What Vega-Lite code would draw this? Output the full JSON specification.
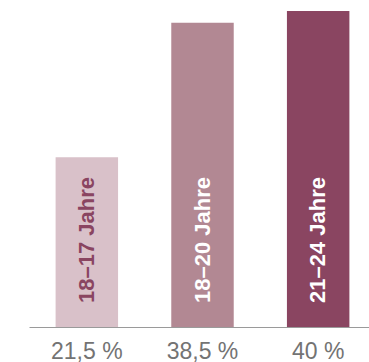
{
  "$schema": "https://vega.github.io/schema/vega-lite/v6.json",
  "autosize": {"type": "none"},
  "width": 347,
  "height": 316,
  "padding": {"left": 29, "top": 11, "right": 0, "bottom": 35},
  "background": "white",
  "config": {"view": {"stroke": null}, "font": "Liberation Sans"},
  "data": {
    "values": [
      {"age": "18–17 Jahre", "share": 21.5, "label": "21,5 %"},
      {"age": "18–20 Jahre", "share": 38.5, "label": "38,5 %"},
      {"age": "21–24 Jahre", "share": 40, "label": "40 %"}
    ]
  },
  "encoding": {
    "x": {
      "field": "label",
      "type": "nominal",
      "sort": null,
      "scale": {"paddingInner": 0.46, "paddingOuter": 0.23},
      "axis": {
        "title": null,
        "ticks": false,
        "labelAngle": 0,
        "labelFont": "Liberation Sans",
        "labelFontSize": 23,
        "labelColor": "#737373",
        "labelPadding": 13,
        "domainColor": "#9a9a9a",
        "domainWidth": 1
      }
    }
  },
  "layer": [
    {
      "mark": {"type": "bar"},
      "encoding": {
        "y": {"field": "share", "type": "quantitative", "scale": {"domain": [0, 40], "nice": false}, "axis": null},
        "color": {
          "field": "age",
          "type": "nominal",
          "scale": {"domain": ["18–17 Jahre", "18–20 Jahre", "21–24 Jahre"], "range": ["#d9c1c9", "#b28893", "#8a4561"]},
          "legend": null
        }
      }
    },
    {
      "mark": {"type": "text", "angle": 270, "align": "left", "baseline": "middle", "dx": 24, "fontSize": 22, "fontWeight": "bold", "font": "Liberation Sans"},
      "encoding": {
        "y": {"datum": 0, "type": "quantitative"},
        "text": {"field": "age"},
        "color": {
          "condition": {"test": "datum.age === '18–17 Jahre'", "value": "#8a4561"},
          "value": "#ffffff"
        }
      }
    }
  ]
}
